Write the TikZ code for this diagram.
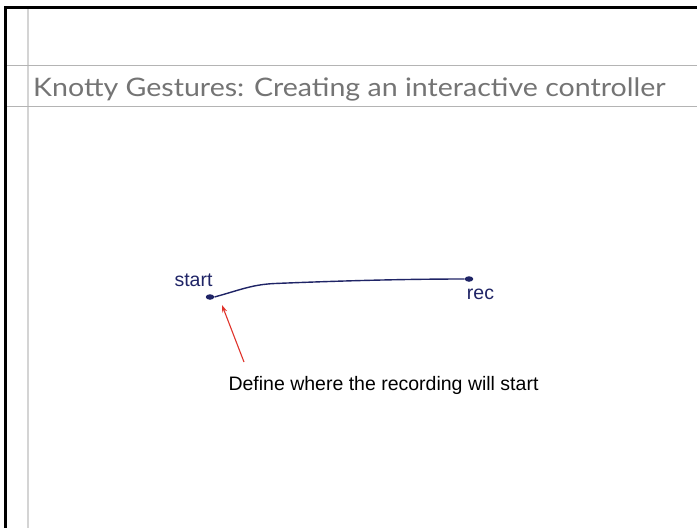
\documentclass[tikz,border=0pt]{standalone}
\usepackage{fontspec}
\setmainfont{Liberation Sans}
\newfontfamily\titlefont{Lato}
\usetikzlibrary{arrows.meta,shapes.geometric}
\definecolor{navy}{HTML}{1F2466}
\definecolor{titlegray}{HTML}{747474}
\definecolor{rulegray}{HTML}{B4B4B4}
\definecolor{margingray}{HTML}{D4D4D4}
\definecolor{arrowred}{HTML}{E0332B}
\tikzset{
  frameline/.style={black, line width=2.2pt},
  ruleline/.style={rulegray, line width=0.9pt},
  marginline/.style={margingray, line width=1.8pt},
  lbl/.style={inner sep=0pt, font=\fontsize{19.5}{19.5}\selectfont},
  dotnode/.style={ellipse, fill=navy, inner sep=0pt, minimum width=8.5pt, minimum height=5.5pt},
  gesture/.style={navy, line width=1.4pt},
  pointer/.style={arrowred, line width=1.1pt, -{Stealth[length=7.5pt,width=5pt]}},
}
\begin{document}
\begin{tikzpicture}[x=1pt,y=-1pt]
\useasboundingbox[fill=white] (0,0) rectangle (697,528);
% page frame
\coordinate (tl) at (5.5,7.5);
\coordinate (tr) at (697,7.5);
\coordinate (bl) at (5.5,528);
\draw[marginline] (27.7,7.5) -- (27.7,528);
\draw[ruleline] (5.5,65) -- (697,65);
\draw[ruleline] (5.5,106) -- (697,106);
\draw[frameline] (tr) -- (tl) -- (bl);
% title
\node[anchor=base west, inner sep=0pt, text=titlegray, xscale=1.12, font=\titlefont\fontsize{25.5}{25.5}\selectfont] (title) at (33,96.5) {Knotty Gestures: Creating an interactive controller};
% gesture
\node[dotnode] (s) at (210,297) {};
\node[dotnode] (r) at (469,279) {};
\draw[gesture] (s.east) .. controls (240,290) and (252,284.5) .. (275,283.5) .. controls (360,280) and (420,279) .. (r.west);
\node[lbl, text=navy, anchor=base] (startlbl) at (193.5,286.5) {start};
\node[lbl, text=navy, anchor=base] (reclbl) at (480.5,299) {rec};
% annotation
\coordinate (tail) at (244,362);
\coordinate (tip) at (222,305);
\draw[pointer] (tail) -- (tip);
\node[lbl, text=black, anchor=base] (note) at (383.5,390) {Define where the recording will start};
\end{tikzpicture}
\end{document}
